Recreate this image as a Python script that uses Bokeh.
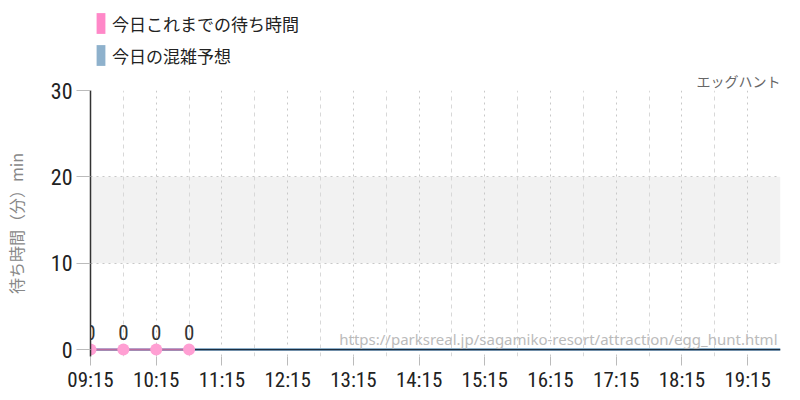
from bokeh.plotting import figure
from bokeh.layouts import column
from bokeh.models import (ColumnDataSource, FixedTicker, Grid, BoxAnnotation, Label,
                          Legend, LegendItem, Range1d, LabelSet)
from bokeh.core.properties import value
from bokeh.embed import file_html
from bokeh.resources import INLINE

# ---- data ----
actual_times = ["09:15", "09:45", "10:15", "10:45"]
actual_waits = [0, 0, 0, 0]
forecast_times = ["09:15", "09:45", "10:15", "10:45", "11:15", "11:45", "12:15", "12:45",
                  "13:15", "13:45", "14:15", "14:45", "15:15", "15:45", "16:15", "16:45",
                  "17:15", "17:45", "18:15", "18:45", "19:15", "19:45"]
forecast_waits = [0, 0, 0, 0, 0, 0, 0, 0, 0, 0, 0, 0, 0, 0, 0, 0, 0, 0, 0, 0, 0, 0]
x_tick_labels = ["09:15", "10:15", "11:15", "12:15", "13:15", "14:15", "15:15",
                 "16:15", "17:15", "18:15", "19:15"]
y_ticks = [0, 10, 20, 30]
busy_band = [10, 20]
series_names = ["今日これまでの待ち時間", "今日の混雑予想"]
attraction_name = "エッグハント"
source_url = "https://parksreal.jp/sagamiko-resort/attraction/egg_hunt.html"
y_label = "待ち時間（分）min"

PINK = "#ff88c8"
BLUE = "#8eb1cc"
NUM_FONT = "Roboto Condensed, Liberation Sans Narrow, Roboto"
JP_FONT = "Noto Sans CJK JP"


def to_h(t):
    h, m = t.split(":")
    return int(h) + int(m) / 60.0


ax = [to_h(t) for t in actual_times]
fx = [to_h(t) for t in forecast_times]
hour_ticks = [to_h(t) for t in x_tick_labels]
half_ticks = [v for v in fx if v not in hour_ticks]

# ---------- legend strip ----------
lf = figure(width=800, height=68, output_backend="svg", toolbar_location=None,
            x_range=Range1d(0, 1), y_range=Range1d(0, 1),
            x_axis_location=None, y_axis_location=None, min_border=0)
lf.outline_line_color = None
lf.grid.visible = False
nan = float("nan")
sw_src = ColumnDataSource(dict(l=[nan], r=[nan], b=[nan], t=[nan]))
q1 = lf.quad(left="l", right="r", bottom="b", top="t", source=sw_src, fill_color=PINK, line_color=None)
q2 = lf.quad(left="l", right="r", bottom="b", top="t", source=sw_src, fill_color=BLUE, line_color=None)
legend = Legend(items=[LegendItem(label=series_names[0], renderers=[q1]),
                       LegendItem(label=series_names[1], renderers=[q2])],
                orientation="vertical", location=(5, 0),
                glyph_width=11, glyph_height=26, label_height=26, label_standoff=6,
                spacing=6, padding=0, margin=0, border_line_color=None,
                background_fill_alpha=0, label_text_font=JP_FONT,
                label_text_font_size="17px", label_text_color="#222222")
lf.add_layout(legend, "center")

# ---------- main chart ----------
p = figure(width=800, height=332, output_backend="svg", toolbar_location=None,
           x_range=Range1d(fx[0], fx[-1]), y_range=Range1d(-0.8, y_ticks[-1]),
           min_border_left=90, min_border_right=20, min_border_top=22, min_border_bottom=44)
p.outline_line_color = None

# band
p.add_layout(BoxAnnotation(bottom=busy_band[0], top=busy_band[1],
                           fill_color="#f2f2f2", fill_alpha=1, line_color=None, level="image"))

# grids
p.xgrid.ticker = FixedTicker(ticks=hour_ticks)
p.xgrid.grid_line_color = "#c8c8c8"
p.xgrid.grid_line_dash = "dotted"
half_grid = Grid(dimension=0, ticker=FixedTicker(ticks=half_ticks),
                 grid_line_color="#d8d8d8", grid_line_dash="4 4")
p.add_layout(half_grid)
p.ygrid.ticker = FixedTicker(ticks=[t for t in y_ticks if t > 0])
p.ygrid.grid_line_color = "#c8c8c8"
p.ygrid.grid_line_dash = "dotted"

# axes
p.xaxis.ticker = FixedTicker(ticks=hour_ticks)
p.xaxis.major_label_overrides = {h: l for h, l in zip(hour_ticks, x_tick_labels)}
p.xaxis.axis_line_color = None
p.xaxis.major_tick_line_color = "#bbbbbb"
p.xaxis.major_tick_out = 9
p.xaxis.major_tick_in = 0
p.xaxis.minor_tick_line_color = None
p.xaxis.major_label_text_font = NUM_FONT
p.xaxis.major_label_text_font_size = "21px"
p.xaxis.major_label_text_color = "#222222"
p.xaxis.major_label_standoff = 2

p.yaxis.ticker = FixedTicker(ticks=y_ticks)
p.yaxis.axis_line_color = "#333333"
p.yaxis.axis_line_width = 1.5
p.yaxis.major_tick_line_color = "#bbbbbb"
p.yaxis.major_tick_out = 14
p.yaxis.major_tick_in = 0
p.yaxis.minor_tick_line_color = None
p.yaxis.major_label_text_font = NUM_FONT
p.yaxis.major_label_text_font_size = "22px"
p.yaxis.major_label_text_color = "#222222"
p.yaxis.major_label_standoff = 4
p.yaxis.axis_label = y_label
p.yaxis.axis_label_text_font = JP_FONT
p.yaxis.axis_label_text_font_size = "16px"
p.yaxis.axis_label_text_font_style = "normal"
p.yaxis.axis_label_text_color = "#888888"
p.yaxis.axis_label_standoff = 20

# series
fsrc = ColumnDataSource(dict(x=fx, y=forecast_waits))
p.line("x", "y", source=fsrc, line_color=BLUE, line_width=3)
p.line("x", "y", source=fsrc, line_color="#1c2e40", line_width=1.2)

asrc = ColumnDataSource(dict(x=ax, y=actual_waits, t=[str(v) for v in actual_waits]))
p.line("x", "y", source=asrc, line_color=PINK, line_width=2, line_alpha=0.7)
p.scatter("x", "y", source=asrc, size=12, fill_color="#ff9fd3", line_color=None)
p.add_layout(LabelSet(x="x", y="y", text="t", source=asrc, y_offset=10, text_align="center",
                      text_baseline="bottom", text_font=value(NUM_FONT),
                      text_font_size="21px", text_color="#333333"))

# source watermark
p.add_layout(Label(x=fx[-1], y=0, x_offset=-3, y_offset=1, text=source_url,
                   text_align="right", text_baseline="bottom", text_font="Noto Sans",
                   text_font_size="15px", text_color="#bbbbbb"))

# title
p.title.text = attraction_name
p.title.align = "right"
p.title.text_font = JP_FONT
p.title.text_font_size = "14px"
p.title.text_font_style = "normal"
p.title.text_color = "#666666"
p.title.standoff = 0
p.title.offset = 0

open("out.html", "w").write(file_html(column(lf, p, spacing=0), INLINE))
